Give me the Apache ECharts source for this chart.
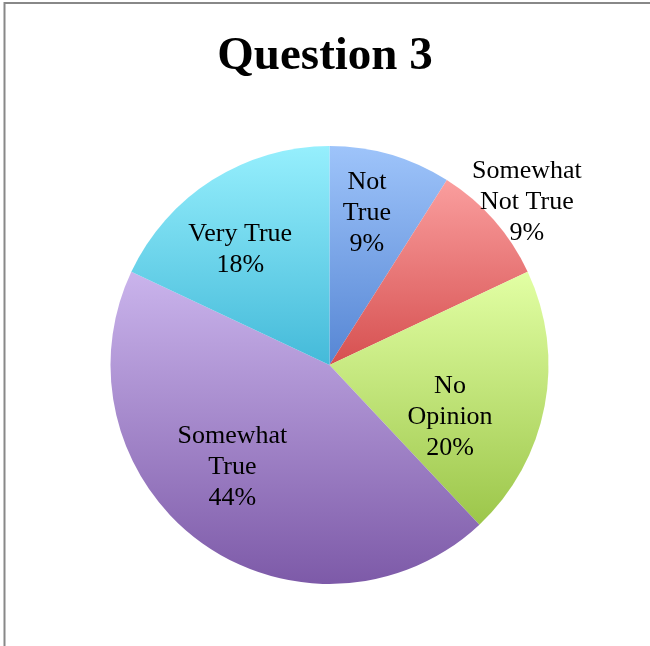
<!DOCTYPE html>
<html>
<head>
<meta charset="utf-8">
<script src="https://cdn.jsdelivr.net/npm/echarts@6/dist/echarts.min.js"></script>
<style>html,body{margin:0;padding:0;background:#fff}#c{width:650px;height:646px}</style>
</head>
<body>
<div id="c"></div>
<script>
const categories = ['Not True', 'Somewhat Not True', 'No Opinion', 'Somewhat True', 'Very True'];
const labelNames = ['Not\nTrue', 'Somewhat\nNot True', 'No\nOpinion', 'Somewhat\nTrue', 'Very True'];
const values = [9, 9, 20, 44, 18];
const topColors = ['#9ec4fa', '#fa9e9e', '#e2ffa4', '#cab4ec', '#96effd'];
const bottomColors = ['#5686d4', '#d65050', '#9cc64a', '#7d5aa8', '#44bad9'];
const labelNudge = [[6, -44], [113, -88], [10, 31], [-31, 11], [-29, -20]];

const chart = echarts.init(document.getElementById('c'), null, {renderer: 'canvas'});
chart.setOption({
  animation: false,
  backgroundColor: '#ffffff',
  title: {
    text: 'Question 3',
    left: 'center',
    top: 28,
    textStyle: {fontFamily: 'Liberation Serif', fontWeight: 'bold', fontSize: 47, color: '#000'}
  },
  graphic: [
    {type: 'line', shape: {x1: 4.5, y1: 2, x2: 4.5, y2: 646}, style: {stroke: '#888', lineWidth: 2}},
    {type: 'line', shape: {x1: 4, y1: 3, x2: 650, y2: 3}, style: {stroke: '#888', lineWidth: 2}}
  ],
  series: [{
    type: 'pie',
    center: [329.5, 365],
    radius: 219,
    startAngle: 90,
    clockwise: true,
    silent: true,
    label: {
      show: true,
      position: 'inside',
      fontFamily: 'Liberation Serif',
      fontSize: 26,
      lineHeight: 31,
      color: '#000',
      align: 'center',
      formatter: p => labelNames[p.dataIndex] + '\n' + p.value + '%'
    },
    labelLine: {show: false},
    labelLayout: p => ({dx: labelNudge[p.dataIndex][0], dy: labelNudge[p.dataIndex][1]}),
    data: categories.map((name, i) => ({
      name: name,
      value: values[i],
      itemStyle: {
        borderWidth: 0,
        color: new echarts.graphic.LinearGradient(0, 0, 0, 1, [
          {offset: 0, color: topColors[i]},
          {offset: 1, color: bottomColors[i]}
        ])
      }
    }))
  }]
});
</script>
</body>
</html>
